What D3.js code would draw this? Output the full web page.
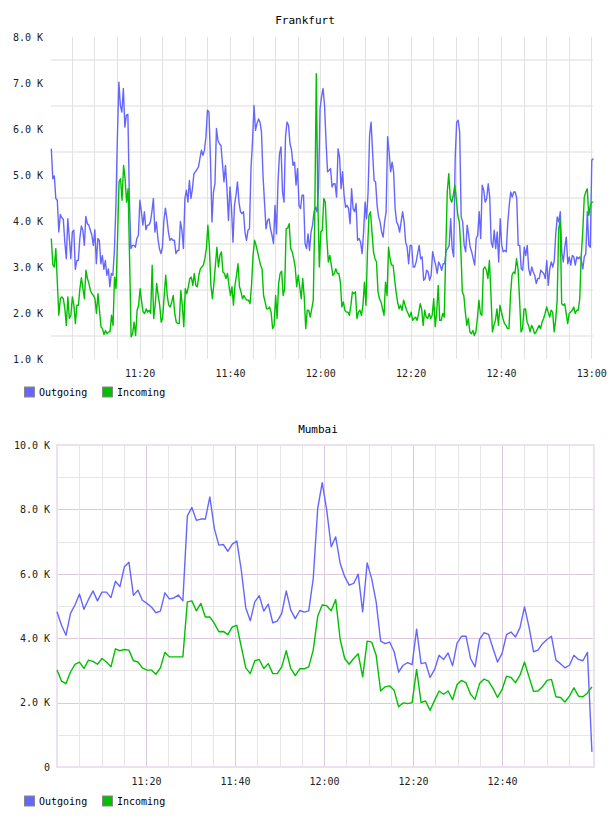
<!DOCTYPE html>
<html>
<head>
<meta charset="utf-8">
<script src="https://cdnjs.cloudflare.com/ajax/libs/d3/7.8.5/d3.min.js"></script>
<style>
  body { margin: 0; background: #fff; }
  svg text { font-family: "DejaVu Sans Mono", monospace; font-size: 10px; fill: #222; }
</style>
</head>
<body>
<script>
const seriesNames = ["Outgoing", "Incoming"];
const seriesColors = ["#6666ff", "#00c000"];

// Frankfurt, values in K, one sample every ~20 s
const frankfurtFirst = "11:00:27";
const frankfurtLast = "13:00:27";
const frankfurtYTicks = [1, 2, 3, 4, 5, 6, 7, 8];
const frankfurtXTicks = ["11:20", "11:40", "12:00", "12:20", "12:40", "13:00"];
const frankfurtOutgoing = [
  5.57, 4.92, 4.98, 4.49, 4.45, 3.76, 4.14, 4.07, 4.04, 3.54,
  3.18, 4.05, 3.62, 3.18, 3.76, 3.80, 2.95, 3.14, 3.14, 3.62,
  3.89, 3.80, 3.47, 4.10, 3.94, 3.91, 3.80, 3.69, 3.47, 3.81,
  3.07, 3.62, 3.58, 3.07, 3.25, 2.95, 3.14, 2.82, 2.96, 2.57,
  2.86, 2.82, 3.33, 4.30, 5.80, 7.02, 6.51, 6.37, 6.88, 6.04,
  6.30, 6.32, 4.49, 3.40, 3.47, 3.47, 3.43, 3.62, 3.69, 4.45,
  4.20, 3.91, 4.20, 3.81, 3.91, 3.91, 3.98, 4.20, 4.49, 3.76,
  3.98, 3.62, 3.40, 3.29, 3.43, 4.01, 4.28, 4.05, 3.76, 3.58,
  3.62, 3.58, 3.58, 3.29, 3.36, 3.36, 3.99, 3.80, 3.40, 4.49,
  4.67, 4.41, 4.88, 4.49, 4.70, 5.03, 5.07, 5.12, 5.17, 5.36,
  5.54, 5.43, 5.54, 5.83, 6.41, 6.37, 5.36, 3.98, 4.63, 4.81,
  6.01, 5.75, 5.68, 5.64, 5.25, 4.85, 5.21, 4.70, 4.01, 4.74,
  4.30, 3.54, 4.34, 4.56, 4.85, 4.41, 4.20, 4.16, 4.20, 3.76,
  3.58, 3.80, 3.83, 5.14, 5.72, 6.51, 5.97, 6.12, 6.22, 6.15,
  5.93, 4.99, 4.41, 3.83, 4.01, 4.05, 3.83, 3.69, 3.51, 4.34,
  3.72, 4.85, 5.46, 5.61, 4.63, 4.41, 5.83, 6.15, 6.08, 5.68,
  5.54, 5.21, 5.28, 4.78, 5.14, 4.34, 4.27, 4.56, 4.56, 3.51,
  3.40, 3.72, 3.36, 3.76, 3.91, 4.20, 4.30, 4.20, 4.70, 6.44,
  6.70,
  6.88, 6.51, 5.72, 5.07, 5.10, 5.14, 4.74, 4.81, 4.81, 4.52,
  5.57, 5.39, 4.70, 5.07, 4.56, 4.30, 4.34, 4.27, 3.94, 4.70,
  4.27, 4.20, 4.38, 3.58, 3.62, 3.54, 3.29, 3.76, 4.41, 4.05,
  4.63, 5.86, 6.15, 5.50, 4.88, 4.85, 4.34, 4.09, 3.98, 3.76,
  3.65, 3.98, 4.20, 5.83, 5.50, 5.07, 5.28, 5.07, 4.27, 3.98,
  3.91, 3.76, 3.98, 4.20, 3.98, 3.54, 3.43, 3.07, 3.47, 3.47,
  3.00, 3.00, 3.11, 3.29, 3.47, 3.18, 3.22, 2.71, 2.75, 2.93,
  2.89, 2.71, 2.82, 3.33, 3.18, 3.04, 2.86, 3.11, 3.04, 2.93,
  3.07, 3.07, 3.36, 3.40, 3.47, 4.05, 3.40, 3.22, 5.36, 6.15,
  6.19, 5.93, 4.09, 3.98, 3.47, 3.33, 3.91, 3.69, 3.43, 3.33,
  3.18, 3.04, 3.62, 3.69, 4.20, 3.62, 4.78, 4.67, 4.41, 4.49,
  4.81, 4.52, 3.54, 3.43, 3.80, 3.40, 3.76, 3.11, 4.05, 3.47,
  3.33, 3.36, 3.33, 3.94, 4.34, 4.63, 4.52, 4.63, 4.63, 4.49,
  3.47, 3.47, 2.96, 2.93, 3.43, 3.25, 3.47, 2.96, 2.82, 3.00,
  2.89, 2.82, 2.64, 2.75, 2.75, 2.93, 2.89, 2.86, 2.75, 3.14,
  2.60, 2.96, 3.11, 3.00, 3.14, 3.72, 4.09, 3.98, 4.20, 3.33,
  3.11, 3.43, 3.65, 3.07, 3.22, 3.04, 3.25, 3.22, 3.04, 3.22,
  3.18, 3.22, 3.14, 2.96, 3.22, 3.29, 4.20, 3.47, 3.43, 5.32,
  5.36
];
const frankfurtIncoming = [
  3.62, 3.05, 3.00, 3.40, 2.67, 1.95, 2.31, 2.35, 2.31, 2.09,
  1.73, 2.35, 1.88, 1.95, 2.35, 2.17, 1.77, 2.17, 2.17, 2.53,
  2.77, 2.53, 2.31, 2.93, 2.75, 2.64, 2.49, 2.42, 2.38, 2.31,
  1.99, 2.42, 2.06, 1.70, 1.66, 1.53, 1.62, 1.55, 1.59, 1.59,
  1.95, 1.73, 2.78, 2.53, 3.62, 4.85, 4.92, 4.45, 5.21, 4.92,
  4.41, 4.70, 3.18, 1.48, 1.55, 1.80, 1.51, 2.06, 2.17, 2.53,
  2.24, 2.02, 1.99, 2.09, 2.02, 2.06, 1.99, 3.04, 1.88, 2.17,
  2.64, 2.38, 2.17, 1.80, 1.91, 2.38, 2.82, 2.38, 2.17, 2.13,
  2.24, 2.38, 1.99, 1.80, 1.77, 1.77, 2.49, 2.17, 1.70, 2.53,
  2.42, 2.57, 2.75, 2.78, 2.60, 2.86, 2.60, 2.57, 2.82, 2.96,
  3.00, 3.04, 3.18, 3.40, 3.91, 3.43, 2.60, 2.31, 2.64, 3.04,
  3.43, 3.00, 3.25, 3.33, 2.89, 2.86, 2.75, 2.86, 2.60, 2.38,
  2.57, 2.17, 2.60, 2.82, 3.07, 2.57, 2.46, 2.31, 2.38, 2.31,
  2.28, 2.28, 2.20, 2.60, 3.25, 3.58, 3.47, 3.33, 3.18, 3.04,
  2.96, 2.38, 2.24, 2.09, 2.09, 2.13, 2.02, 1.66, 1.73, 2.38,
  1.88, 2.64, 2.86, 2.91, 2.38, 2.53, 3.83, 3.85, 3.94, 3.40,
  3.33, 3.18, 3.00, 2.57, 2.82, 2.57, 2.31, 2.75, 2.35, 1.66,
  2.06, 2.06, 1.91, 2.09, 2.28, 4.10, 7.20, 4.50, 3.00,
  3.76, 3.80, 4.49, 4.41, 3.62, 3.11, 3.25, 3.04, 2.82, 2.86,
  2.96, 2.86, 2.86, 2.67, 2.13, 2.24, 2.06, 2.02, 2.02, 1.95,
  2.17, 2.46, 2.42, 2.46, 1.88, 2.02, 2.06, 1.95, 2.17, 2.67,
  2.17, 3.33, 4.12, 4.20, 3.76, 3.33, 3.18, 3.11, 2.46, 2.31,
  2.24, 2.09, 1.95, 2.67, 2.38, 3.43, 3.18, 3.04, 3.04, 2.75,
  2.46, 2.24, 2.09, 2.17, 2.06, 2.28, 2.17, 2.06, 1.99, 1.91,
  2.02, 1.84, 1.88, 1.91, 1.84, 1.99, 2.20, 2.09, 1.73, 2.06,
  1.91, 1.88, 1.99, 1.88, 1.95, 2.31, 1.70, 2.02, 2.60, 1.84,
  1.84, 1.99, 1.91, 3.33, 4.63, 5.03, 4.49, 4.41, 4.56, 4.78,
  4.49, 4.12, 3.98, 3.40, 2.46, 2.38, 2.02, 1.73, 1.88, 1.59,
  1.55, 1.62, 1.51, 1.59, 1.88, 2.28, 1.99, 1.95, 2.96, 3.00,
  2.93, 2.75, 3.14, 2.42, 1.59, 1.73, 1.84, 2.09, 1.73, 2.17,
  2.02, 1.88, 1.77, 1.73, 1.66, 1.66, 2.38, 2.82, 2.89, 2.86,
  3.18, 2.96, 2.31, 1.59, 1.66, 2.09, 2.09, 1.80, 1.73, 1.59,
  1.73, 1.66, 1.55, 1.59, 1.66, 1.73, 1.66, 1.80, 1.88, 1.99,
  2.13, 2.02, 1.91, 2.06, 2.02, 1.59, 1.84, 2.28, 3.83, 4.01,
  2.20, 2.17, 2.20, 1.99, 1.77, 1.99, 2.02, 2.06, 2.13, 1.99,
  2.06, 2.06, 2.31, 3.25, 3.76, 4.52, 4.63, 4.70, 4.12, 4.34,
  4.41, 4.41
];

// Mumbai, values in K, one sample per minute
const mumbaiFirst = "11:00:00";
const mumbaiLast = "13:00:12";
const mumbaiYTicks = [0, 2, 4, 6, 8, 10];
const mumbaiXTicks = ["11:20", "11:40", "12:00", "12:20", "12:40"];
const mumbaiOutgoing = [
  4.82, 4.40, 4.09, 4.77, 5.03, 5.37, 4.90, 5.20, 5.47, 5.16,
  5.43, 5.43, 5.26, 5.77, 5.60, 6.22, 6.36, 5.33, 5.49, 5.18,
  5.08, 4.97, 4.79, 4.84, 5.41, 5.22, 5.25, 5.34, 5.16, 7.80,
  8.06, 7.66, 7.70, 7.70, 8.39, 7.41, 6.89, 6.91, 6.70, 6.92,
  7.02, 6.11, 4.94, 4.54, 5.13, 5.32, 4.84, 5.06, 4.48, 4.53,
  4.77, 5.47, 4.87, 4.61, 4.86, 4.81, 4.85, 5.85, 8.03,
  8.83, 7.98, 6.84, 7.15, 6.32, 5.91, 5.65, 5.70, 5.99, 4.82,
  6.34, 5.85, 5.13, 3.91, 3.83, 3.88, 3.58, 2.95, 3.16, 3.24,
  3.18, 4.28, 3.21, 3.24, 2.78, 3.03, 3.47, 3.34, 3.54, 3.14,
  3.85, 4.06, 4.06, 3.37, 3.11, 3.96, 4.17, 4.12, 3.68, 3.26,
  3.52, 4.11, 4.19, 4.04, 4.33, 4.97, 4.35, 3.58, 3.63, 3.83,
  3.96, 4.06, 3.32, 3.21, 3.08, 3.16, 3.47, 3.34, 3.30, 3.56,
  0.47
];
const mumbaiIncoming = [
  3.01, 2.67, 2.59, 2.95, 3.19, 3.26, 3.06, 3.32, 3.28, 3.19,
  3.37, 3.26, 3.11, 3.67, 3.61, 3.65, 3.63, 3.30, 3.26, 3.08,
  3.01, 3.01, 2.88, 3.08, 3.56, 3.42, 3.42, 3.42, 3.42, 5.13,
  5.16, 4.85, 5.08, 4.66, 4.66, 4.46, 4.20, 4.21, 4.11, 4.35,
  4.40, 3.73, 3.08, 2.90, 3.30, 3.34, 3.06, 3.21, 2.90, 2.90,
  3.11, 3.61, 3.06, 2.84, 3.05, 3.05, 3.11, 3.63, 4.68,
  5.03, 5.01, 4.85, 5.20, 3.96, 3.37, 3.19, 3.37, 3.52, 2.80,
  3.91, 3.88, 3.47, 2.36, 2.49, 2.52, 2.38, 1.87, 1.99, 1.97,
  2.00, 3.03, 2.00, 2.05, 1.76, 2.07, 2.36, 2.26, 2.36, 2.09,
  2.56, 2.69, 2.61, 2.26, 2.10, 2.59, 2.73, 2.67, 2.44, 2.16,
  2.40, 2.82, 2.78, 2.62, 2.85, 3.26, 2.80, 2.35, 2.36, 2.49,
  2.69, 2.72, 2.18, 2.16, 2.02, 2.20, 2.46, 2.20, 2.18, 2.30,
  2.49
];

const parseTime = d3.timeParse("%H:%M");
const parseStamp = d3.timeParse("%H:%M:%S");

function stamps(n, first, last) {
  const a = parseStamp(first).getTime();
  const b = parseStamp(last).getTime();
  return d3.range(n).map((i) => new Date(a + (i * (b - a)) / (n - 1)));
}

const svg = d3
  .select("body")
  .append("svg")
  .attr("width", 608)
  .attr("height", 816);

function addSeries(x, y, values, first, last, color) {
  const times = stamps(values.length, first, last);
  const points = values.map((v, i) => ({ t: times[i], v: v }));
  const line = d3
    .line()
    .x((d) => x(d.t))
    .y((d) => y(d.v));
  svg
    .append("path")
    .datum(points)
    .attr("fill", "none")
    .attr("stroke", color)
    .attr("stroke-width", 1.4)
    .attr("stroke-linejoin", "round")
    .attr("d", line);
}

function addLegend(top) {
  const item = svg
    .selectAll(null)
    .data(seriesNames)
    .enter()
    .append("g")
    .attr("transform", (d, i) => `translate(${24 + i * 78}, ${top})`);
  item
    .append("rect")
    .attr("x", 0.5)
    .attr("y", 0.5)
    .attr("width", 10)
    .attr("height", 10)
    .attr("fill", (d, i) => seriesColors[i])
    .attr("stroke", "#888");
  item
    .append("text")
    .attr("x", 15)
    .attr("y", 6)
    .attr("dy", "0.35em")
    .style("fill", "#000")
    .text((d) => d);
}

function styleAxis(g) {
  g.select(".domain").remove();
  g.attr("font-family", null).attr("font-size", null);
  g.selectAll("text").style("fill", "#222");
}

// ---------- Frankfurt ----------
const fx = d3
  .scaleTime()
  .domain([parseStamp(frankfurtFirst), parseStamp(frankfurtLast)])
  .range([51.3, 593.3]);
const fy = d3.scaleLinear().domain([1, 8]).range([359, 37]);

svg
  .selectAll(null)
  .data(d3.range(1.5, 8, 1))
  .enter()
  .append("line")
  .attr("x1", 51)
  .attr("x2", 593)
  .attr("y1", (d) => fy(d))
  .attr("y2", (d) => fy(d))
  .attr("stroke", "#eeeeee")
  .attr("stroke-width", 2);

svg
  .selectAll(null)
  .data(fx.ticks(d3.timeMinute.every(5)))
  .enter()
  .append("line")
  .attr("x1", (d) => Math.round(fx(d)) + 0.5)
  .attr("x2", (d) => Math.round(fx(d)) + 0.5)
  .attr("y1", fy(8))
  .attr("y2", fy(1))
  .attr("stroke", "#e2e2e2")
  .attr("stroke-width", 1);

svg
  .append("text")
  .attr("x", 305)
  .attr("y", 20)
  .attr("dy", "0.35em")
  .attr("text-anchor", "middle")
  .style("font-size", "11px")
  .style("fill", "#000")
  .text("Frankfurt");

svg
  .append("g")
  .attr("transform", "translate(51, 0)")
  .call(
    d3
      .axisLeft(fy)
      .tickValues(frankfurtYTicks)
      .tickSize(0)
      .tickPadding(8)
      .tickFormat((d) => d.toFixed(1) + " K"),
  )
  .call(styleAxis);

svg
  .append("g")
  .attr("transform", "translate(0, 359)")
  .call(
    d3
      .axisBottom(fx)
      .tickValues(frankfurtXTicks.map(parseTime))
      .tickSize(0)
      .tickPadding(10.5)
      .tickFormat(d3.timeFormat("%H:%M")),
  )
  .call(styleAxis);

addSeries(fx, fy, frankfurtOutgoing, frankfurtFirst, frankfurtLast, seriesColors[0]);
addSeries(fx, fy, frankfurtIncoming, frankfurtFirst, frankfurtLast, seriesColors[1]);
addLegend(386.5);

// ---------- Mumbai ----------
const mx = d3
  .scaleTime()
  .domain([parseStamp("11:00:00"), parseStamp("13:00:40")])
  .range([57, 594]);
const my = d3.scaleLinear().domain([0, 10]).range([767, 445]);

svg
  .selectAll(null)
  .data(d3.range(1, 10))
  .enter()
  .append("line")
  .attr("x1", 57)
  .attr("x2", 594)
  .attr("y1", (d) => Math.round(my(d)) + 0.5)
  .attr("y2", (d) => Math.round(my(d)) + 0.5)
  .attr("stroke", (d) => (d % 2 === 0 ? "#dccadc" : "#e6e6e6"))
  .attr("stroke-width", 1);

svg
  .selectAll(null)
  .data(mx.ticks(d3.timeMinute.every(5)).filter((d) => mx(d) > 60 && mx(d) < 590))
  .enter()
  .append("line")
  .attr("x1", (d) => Math.round(mx(d)) + 0.5)
  .attr("x2", (d) => Math.round(mx(d)) + 0.5)
  .attr("y1", my(10))
  .attr("y2", my(0))
  .attr("stroke", (d) => (d.getMinutes() % 20 === 0 ? "#dccadc" : "#e6e6e6"))
  .attr("stroke-width", 1);

svg
  .append("rect")
  .attr("x", 57)
  .attr("y", my(10))
  .attr("width", 594 - 57)
  .attr("height", my(0) - my(10))
  .attr("fill", "none")
  .attr("stroke", "#efe0ef")
  .attr("stroke-width", 2);

svg
  .append("text")
  .attr("x", 318)
  .attr("y", 429)
  .attr("dy", "0.35em")
  .attr("text-anchor", "middle")
  .style("font-size", "11px")
  .style("fill", "#000")
  .text("Mumbai");

svg
  .append("g")
  .attr("transform", "translate(57, 0)")
  .call(
    d3
      .axisLeft(my)
      .tickValues(mumbaiYTicks)
      .tickSize(0)
      .tickPadding(7)
      .tickFormat((d) => (d === 0 ? "0" : d.toFixed(1) + " K")),
  )
  .call(styleAxis);

svg
  .append("g")
  .attr("transform", "translate(0, 767)")
  .call(
    d3
      .axisBottom(mx)
      .tickValues(mumbaiXTicks.map(parseTime))
      .tickSize(0)
      .tickPadding(11)
      .tickFormat(d3.timeFormat("%H:%M")),
  )
  .call(styleAxis);

addSeries(mx, my, mumbaiOutgoing, mumbaiFirst, mumbaiLast, seriesColors[0]);
addSeries(mx, my, mumbaiIncoming, mumbaiFirst, mumbaiLast, seriesColors[1]);
addLegend(795.5);
</script>
</body>
</html>
